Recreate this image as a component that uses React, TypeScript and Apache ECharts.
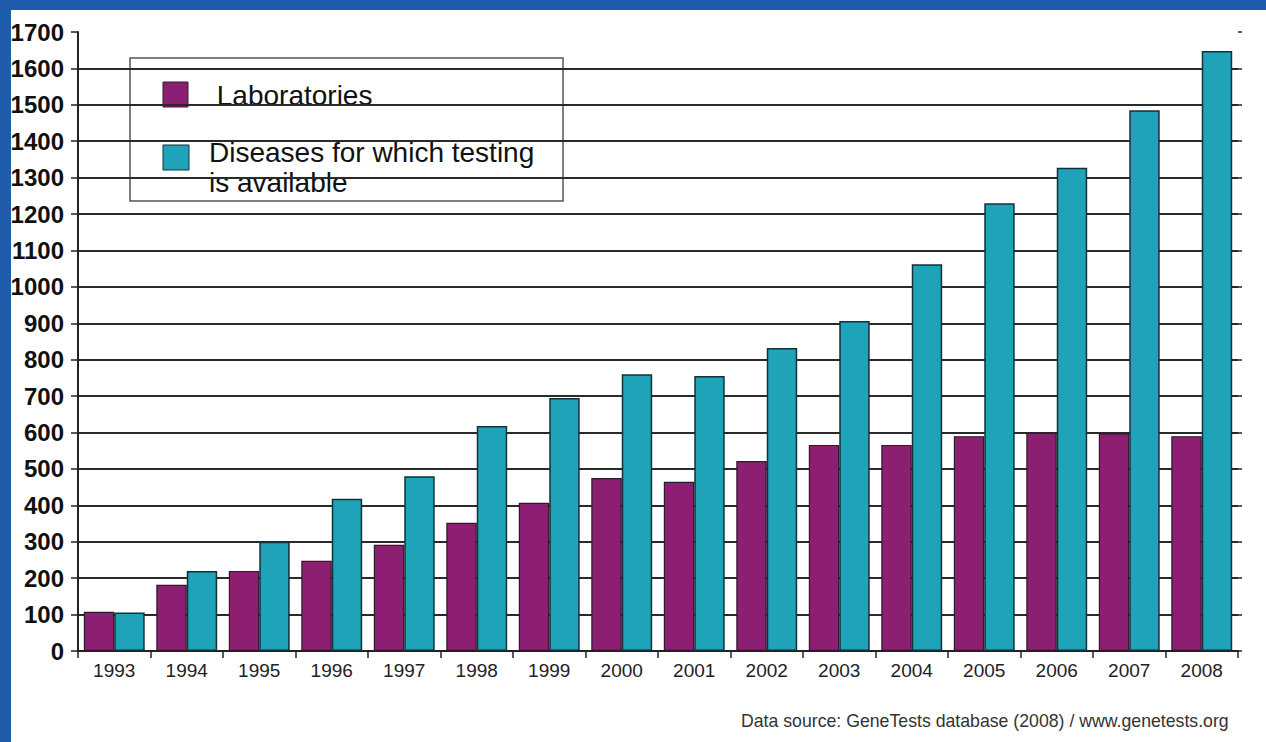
import React, { useEffect, useRef } from "react";
import * as echarts from "echarts";

const years = ["1993","1994","1995","1996","1997","1998","1999","2000","2001","2002","2003","2004","2005","2006","2007","2008"];
const laboratories = [108, 182, 220, 248, 292, 352, 407, 475, 465, 522, 566, 566, 590, 600, 598, 590];
const diseases = [106, 220, 300, 418, 480, 618, 695, 760, 755, 832, 906, 1062, 1230, 1327, 1485, 1648];
const yTicks = { min: 0, max: 1700, interval: 100 };
const legendLabels = [" Laboratories", "Diseases for which testing", "is available"];
const sourceText = "Data source: GeneTests database (2008) / www.genetests.org";

const PURPLE = "#8c1f72";
const CYAN = "#1fa3b9";
const GRID = "#2a2a2a";

export default function App() {
  const ref = useRef<HTMLDivElement>(null);
  useEffect(() => {
    if (!ref.current) return;
    const chart = echarts.init(ref.current, undefined, { renderer: "svg" });
    const nLines = yTicks.max / yTicks.interval + 1;
    const splitColors = Array.from({ length: nLines }, (_, i) => (i === nLines - 1 ? "transparent" : GRID));
    chart.setOption({
      animation: false,
      backgroundColor: "#ffffff",
      grid: { left: 78, right: 28, top: 32, bottom: 91, containLabel: false, outerBoundsMode: "none" },
      xAxis: {
        type: "category",
        data: years,
        boundaryGap: true,
        axisLine: { lineStyle: { color: "#222", width: 2 } },
        axisTick: { show: true, length: 7, lineStyle: { color: "#222", width: 1.5 } },
        axisLabel: { color: "#222", fontSize: 19, fontFamily: "Liberation Sans, Arial, sans-serif", margin: 10 },
      },
      yAxis: [
        {
          type: "value",
          min: yTicks.min,
          max: yTicks.max,
          interval: yTicks.interval,
          axisLine: { show: true, lineStyle: { color: "#222", width: 2 } },
          axisTick: { show: true, length: 7, lineStyle: { color: "#222", width: 1.5 } },
          axisLabel: {
            color: "#111",
            fontSize: 24,
            fontWeight: "bold",
            fontFamily: "Liberation Sans, Arial, sans-serif",
            margin: 14,
            formatter: (v: number) => String(v),
          },
          splitLine: { show: true, lineStyle: { color: splitColors, width: 2 } },
        },
        {
          type: "value",
          position: "right",
          min: yTicks.min,
          max: yTicks.max,
          interval: yTicks.interval,
          axisLine: { show: false },
          axisTick: { show: true, length: 4, lineStyle: { color: "#222", width: 1.5 } },
          axisLabel: { show: false },
          splitLine: { show: false },
        },
      ],
      series: [
        {
          name: "Laboratories",
          type: "bar",
          data: laboratories,
          barGap: "0%",
          barCategoryGap: "16%",
          itemStyle: { color: PURPLE, borderColor: "#2a1a2a", borderWidth: 1.2 },
        },
        {
          name: "Diseases for which testing is available",
          type: "bar",
          data: diseases,
          barGap: "0%",
          barCategoryGap: "16%",
          itemStyle: { color: CYAN, borderColor: "#14303a", borderWidth: 1.5 },
        },
      ],
      graphic: [
        { type: "rect", z: 0, shape: { x: 0, y: 0, width: 1266, height: 10 }, style: { fill: "#1f5cab" } },
        { type: "rect", z: 0, shape: { x: 0, y: 0, width: 11, height: 742 }, style: { fill: "#1f5cab" } },
        {
          type: "group",
          z: 50,
          children: [
            { type: "rect", shape: { x: 130, y: 58, width: 433, height: 143 }, style: { fill: "#fff", stroke: "#555", lineWidth: 1.5 } },
            { type: "rect", shape: { x: 163, y: 82, width: 25, height: 25 }, style: { fill: PURPLE, stroke: "#3a1a30", lineWidth: 1 } },
            { type: "rect", shape: { x: 163, y: 145, width: 26, height: 25 }, style: { fill: CYAN, stroke: "#14303a", lineWidth: 1 } },
            { type: "text", x: 209, y: 95, style: { text: legendLabels[0], fill: "#111", font: "28px Liberation Sans, Arial, sans-serif", verticalAlign: "middle" } },
            { type: "text", x: 209, y: 152, style: { text: legendLabels[1], fill: "#111", font: "28px Liberation Sans, Arial, sans-serif", verticalAlign: "middle" } },
            { type: "text", x: 209, y: 182, style: { text: legendLabels[2], fill: "#111", font: "28px Liberation Sans, Arial, sans-serif", verticalAlign: "middle" } },
          ],
        },
        { type: "text", x: 741, y: 721, style: { text: sourceText, fill: "#333", font: "17.7px Liberation Sans, Arial, sans-serif", verticalAlign: "middle" } },
      ],
    });
    return () => chart.dispose();
  }, []);
  return <div ref={ref} style={{ position: "fixed", left: 0, top: 0, width: 1266, height: 742 }} />;
}
